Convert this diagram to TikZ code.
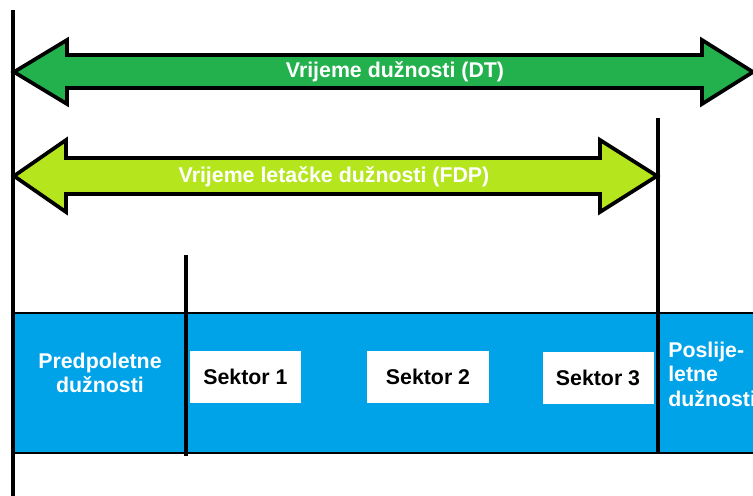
\documentclass[tikz,border=0pt]{standalone}
\usepackage{fontspec}
\setmainfont{Liberation Sans}
\definecolor{dtgreen}{HTML}{22B14C}
\definecolor{fdplime}{HTML}{B5E61D}
\definecolor{bandblue}{HTML}{00A2E8}
\tikzset{
  label text/.style={font=\bfseries\fontsize{16}{18.4}\selectfont, text=white},
  sector box/.style={fill=white, font=\bfseries\fontsize{16}{18.4}\selectfont,
    minimum width=83.25pt, minimum height=39pt, inner sep=0pt},
  arrow outline/.style={draw=black, line width=2.8pt, line join=miter},
  time line/.style={line width=3pt}
}
\begin{document}
\begin{tikzpicture}[x=0.75pt, y=-0.75pt]
		\useasboundingbox (0,0) rectangle (753,496);
		\clip (0,0) rectangle (753,496);

		% Blue band of the duty period
		\fill[bandblue] (13,313) rectangle (760,453);
		\draw[line width=1.8pt] (13,313) -- (760,313);
		\draw[line width=1.8pt] (13,453) -- (760,453);

		% Duty time arrow (DT)
		\draw[arrow outline, fill=dtgreen] (14,72) -- (67,40) -- (67,55) -- (702,55) -- (702,40)
			-- (753,72) -- (702,104) -- (702,88) -- (67,88) -- (67,104) -- cycle;
		\node[label text] (dt) at (395,72) {Vrijeme dužnosti (DT)};

		% Flight duty period arrow (FDP)
		\draw[arrow outline, fill=fdplime] (14,176) -- (66,140) -- (66,158) -- (600,158) -- (600,140)
			-- (657,176) -- (600,212) -- (600,194) -- (66,194) -- (66,212) -- cycle;
		\node[label text] (fdp) at (334,177) {Vrijeme letačke dužnosti (FDP)};

		% Time marks
		\coordinate (starttop) at (13,10);
		\coordinate (startbot) at (13,496);
		\coordinate (pretop) at (186,255);
		\coordinate (prebot) at (186,456);
		\coordinate (posttop) at (658,118);
		\coordinate (postbot) at (658,453);
		\draw[time line] (starttop) -- (startbot);
		\draw[time line] (pretop) -- (prebot);
		\draw[time line] (posttop) -- (postbot);

		% Phases
		\node[label text, align=center] (pre) at (100,373) {Predpoletne\\dužnosti};
		\node[sector box] (s1) at (245.5,376.5) {Sektor 1};
		\node[sector box, minimum width=91.5pt] (s2) at (428,377) {Sektor 2};
		\node[sector box] (s3) at (598,377.5) {Sektor 3};
		\node[label text, align=left, anchor=west, inner sep=0pt] (post) at (668,374) {Poslije-\\letne\\dužnosti};
	\end{tikzpicture}
\end{document}
